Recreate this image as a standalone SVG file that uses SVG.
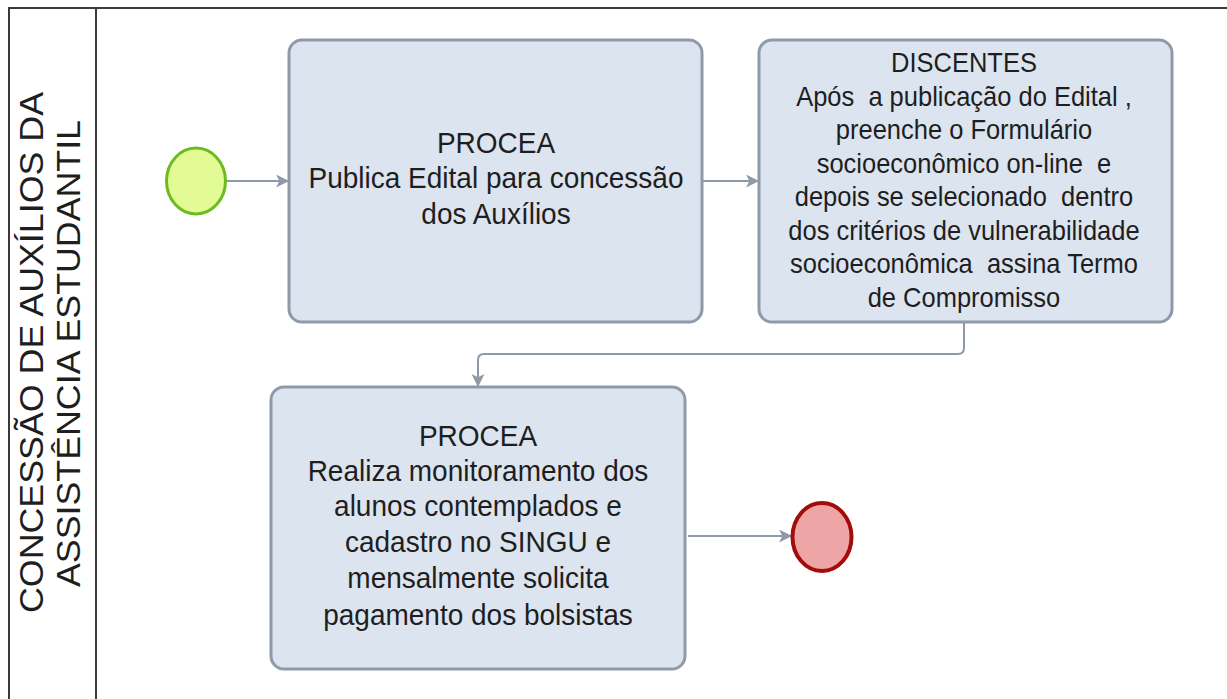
<svg xmlns="http://www.w3.org/2000/svg" width="1227" height="699" viewBox="0 0 1227 699">
<defs>
<style>
.box{fill:#dce4f0;stroke:#8f9aa8;stroke-width:3}
.t{font-family:"Liberation Sans",Arial,sans-serif;fill:#1e1e1e;text-anchor:middle}
.c{fill:none;stroke:#8f9aa8;stroke-width:2}
.lane{fill:none;stroke:#3a3a3a;stroke-width:2}
</style>
<marker id="ah" viewBox="0 0 12 12" refX="11" refY="6" markerWidth="13" markerHeight="13" markerUnits="userSpaceOnUse" orient="auto">
<path d="M0,0 L12,6 L0,12 L3,6 Z" fill="#8f9aa8"/>
</marker>
</defs>
<rect width="1227" height="699" fill="#ffffff"/>
<g id="lane">
<path class="lane" d="M1227,8 H9 V699 M96,8 V699"/>
<text class="t" font-size="34" textLength="521" lengthAdjust="spacingAndGlyphs" transform="translate(43,352.5) rotate(-90)">CONCESSÃO DE AUXÍLIOS DA</text>
<text class="t" font-size="34" textLength="467" lengthAdjust="spacingAndGlyphs" transform="translate(80,353.5) rotate(-90)">ASSISTÊNCIA ESTUDANTIL</text>
</g>
<g id="connectors">
<path class="c" d="M226,181 H288" marker-end="url(#ah)"/>
<path class="c" d="M702,181 H758" marker-end="url(#ah)"/>
<path class="c" d="M964,322 V348 Q964,354 958,354 H484 Q478,354 478,360 V386" marker-end="url(#ah)"/>
<path class="c" d="M688,536 H791" marker-end="url(#ah)"/>
</g>
<g id="start">
<ellipse cx="196" cy="181" rx="29.5" ry="33" fill="#e2fb94" stroke="#6cbb1f" stroke-width="3"/>
</g>
<g id="box1">
<rect class="box" x="289" y="40" width="413" height="282" rx="13"/>
<text class="t" font-size="28" transform="scale(1,1.08)"><tspan x="496" y="141.7">PROCEA</tspan><tspan x="496" y="174.1">Publica Edital para concessão</tspan><tspan x="496" y="207.4">dos Auxílios</tspan></text>
</g>
<g id="box2">
<rect class="box" x="759" y="40" width="413" height="282" rx="13"/>
<text class="t" font-size="25.5" transform="scale(1,1.08)" xml:space="preserve"><tspan x="964" y="66.7">DISCENTES</tspan><tspan x="964" y="98.1">Após  a publicação do Edital ,</tspan><tspan x="964" y="128.7">preenche o Formulário</tspan><tspan x="964" y="160.2">socioeconômico on-line  e</tspan><tspan x="964" y="190.7">depois se selecionado  dentro</tspan><tspan x="964" y="222.2">dos critérios de vulnerabilidade</tspan><tspan x="964" y="252.8">socioeconômica  assina Termo</tspan><tspan x="964" y="284.3">de Compromisso</tspan></text>
</g>
<g id="box3">
<rect class="box" x="271" y="387" width="414" height="282" rx="13"/>
<text class="t" font-size="28" transform="scale(1,1.08)"><tspan x="478" y="413.0">PROCEA</tspan><tspan x="478" y="445.4">Realiza monitoramento dos</tspan><tspan x="478" y="477.8">alunos contemplados e</tspan><tspan x="478" y="511.1">cadastro no SINGU e</tspan><tspan x="478" y="544.4">mensalmente solicita</tspan><tspan x="478" y="578.7">pagamento dos bolsistas</tspan></text>
</g>
<g id="end">
<ellipse cx="822" cy="537" rx="29.5" ry="34" fill="#eda5a6" stroke="#a40c0c" stroke-width="4"/>
</g>
</svg>
